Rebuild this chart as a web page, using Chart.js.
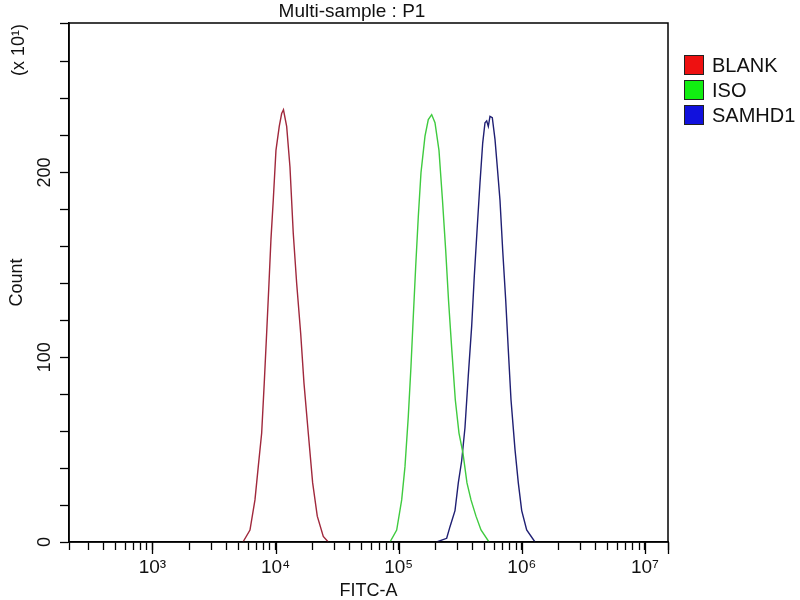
<!DOCTYPE html>
<html lang="en">
<head>
  <meta charset="UTF-8" />
  <title>Multi-sample : P1</title>
  <script src="https://cdn.jsdelivr.net/npm/chart.js"></script>
  <style>
    body {
      margin: 0;
      background: #ffffff;
      font-family: 'Liberation Sans', Arial, sans-serif;
    }

    #wrap {
      position: relative;
      width: 800px;
      height: 600px;
    }

    .legend-item {
      position: absolute;
      left: 684px;
      height: 20px;
      display: flex;
      align-items: center;
      font-size: 20px;
      color: #111;
    }

    .legend-item span.box {
      width: 18px;
      height: 18px;
      border: 1px solid #222;
      margin-right: 8px;
    }
  </style>
</head>
<body>
  <div id="wrap">
    <canvas id="histChart" width="800" height="600"></canvas>
    <div id="legend"></div>
  </div>

  <script>
    // values (FITC-A intensity vs count / 10)
    const seriesNames = ["BLANK", "ISO", "SAMHD1"];

    const blankFitc = [5435, 6197, 6803, 7236, 7713, 8092, 8464, 8840, 9176, 9579, 10074, 10715, 11209,
      11593, 12308, 13092, 13927, 14843, 15995, 17014, 18437, 20012, 21817, 24410, 26800];
    const blankCount = [0, 6.5, 22.8, 40.8, 59, 86, 113, 140, 164, 185, 212, 225, 232,
      234, 225, 203, 167, 140, 113, 86, 59, 32, 14, 3, 0];

    const isoFitc = [85000, 96340, 105780, 112510, 119680, 125860, 131400, 137440, 144290, 151780, 163590,
      173990, 185390, 197200, 212500, 226900, 240900, 253900, 270100, 288300, 308900, 333000, 358700,
      386700, 424600, 466300, 541600];
    const isoCount = [0, 6.5, 22.8, 40.8, 67.9, 95, 122, 149, 176, 200, 219.7,
      228.7, 231.4, 227, 212, 185, 158, 131, 104, 77, 59, 48, 32,
      22.8, 14, 6.5, 0];

    const samhd1Fitc = [203500, 245400, 261100, 286700, 305000, 324900, 345600, 367600, 391800, 411400,
      435100, 457600, 481300, 502500, 518700, 534500, 551700, 576000, 605800, 632400, 665100, 699600,
      740000, 777000, 817200, 880700, 936800, 998200, 1095700, 1280000];
    const samhd1Count = [0, 2, 8.3, 17, 32, 44, 62, 90, 117, 144,
      171, 194.5, 216, 227, 228, 225, 230.5, 229.8, 218, 203, 185, 158,
      131, 104, 77, 50, 32, 17, 6.5, 0];

    const decadeValues = [1e3, 1e4, 1e5, 1e6, 1e7];
    const decadeLabels = ["10³", "10⁴", "10⁵", "10⁶", "10⁷"];
    const countLabels = [0, 100, 200];

    const xMin = 210;
    const xMax = 15400000;

    const lineColors = ["#a0283c", "#3fcb3f", "#1f1f73"];
    const boxColors = ["#ee1111", "#11ee11", "#1111dd"];
    const FONT = "'Liberation Sans', Arial, sans-serif";

    // tick marks at every 1..9 x 10^n inside the axis range, plus the two ends
    function logTicks() {
      const out = [{ value: xMin }];
      for (let e = 2; e <= 7; e++) {
        for (let m = 1; m <= 9; m++) {
          const v = m * Math.pow(10, e);
          if (v > xMin && v < xMax) out.push({ value: v });
        }
      }
      out.push({ value: xMax });
      return out;
    }

    const frameAndText = {
      id: "frameAndText",
      afterDraw(chart) {
        const { ctx, chartArea } = chart;
        const x = chart.scales.x;
        ctx.save();
        ctx.strokeStyle = "#000";
        ctx.lineWidth = 1.5;
        ctx.strokeRect(chartArea.left, chartArea.top, chartArea.right - chartArea.left, chartArea.bottom - chartArea.top);

        // longer ticks at each decade and at the axis end
        ctx.lineWidth = 1.3;
        ctx.beginPath();
        decadeValues.concat([xMax]).forEach(v => {
          const px = Math.round(x.getPixelForValue(v)) + 0.5;
          ctx.moveTo(px, chartArea.bottom);
          ctx.lineTo(px, chartArea.bottom + 12);
        });
        ctx.stroke();

        ctx.fillStyle = "#111";
        ctx.font = "19px " + FONT;
        ctx.textAlign = "center";
        ctx.textBaseline = "alphabetic";
        ctx.fillText("Multi-sample : P1", 352, 17);

        ctx.translate(24, 50);
        ctx.rotate(-Math.PI / 2);
        ctx.font = "18px " + FONT;
        ctx.fillText("(x 10¹)", 0, 0);
        ctx.restore();
      }
    };

    const datasets = [
      [blankFitc, blankCount],
      [isoFitc, isoCount],
      [samhd1Fitc, samhd1Count]
    ].map(([xs, ys], i) => ({
      label: seriesNames[i],
      data: xs.map((v, j) => ({ x: v, y: ys[j] })),
      borderColor: lineColors[i],
      borderWidth: 1.4,
      pointRadius: 0,
      fill: false,
      tension: 0
    }));

    new Chart(document.getElementById("histChart"), {
      type: "line",
      data: { datasets: datasets },
      options: {
        responsive: false,
        animation: false,
        layout: { padding: { top: 23, right: 132, left: 0, bottom: 0 } },
        plugins: {
          legend: { display: false },
          tooltip: { enabled: false }
        },
        scales: {
          x: {
            type: "logarithmic",
            min: xMin,
            max: xMax,
            afterBuildTicks: s => { s.ticks = logTicks(); },
            afterFit: s => { s.height = 58; },
            border: { color: "#000", width: 1.5 },
            grid: {
              drawOnChartArea: false,
              tickLength: 8,
              tickColor: "#000",
              tickWidth: 1.3
            },
            ticks: {
              autoSkip: false,
              maxRotation: 0,
              padding: 6,
              color: "#111",
              font: { family: FONT, size: 19 },
              callback: v => {
                const k = decadeValues.indexOf(v);
                return k >= 0 ? decadeLabels[k] : "";
              }
            },
            title: {
              display: true,
              text: "FITC-A",
              color: "#111",
              font: { family: FONT, size: 18, lineHeight: 1 },
              padding: { top: 0, bottom: 0 }
            }
          },
          y: {
            min: 0,
            max: 281,
            afterFit: s => { s.width = 69; },
            border: { color: "#000", width: 1.5 },
            grid: {
              drawOnChartArea: false,
              tickLength: 9,
              tickColor: "#000",
              tickWidth: 1.3
            },
            ticks: {
              stepSize: 20,
              minRotation: 90,
              maxRotation: 90,
              crossAlign: "center",
              padding: 0,
              color: "#111",
              font: { family: FONT, size: 18 },
              callback: v => (countLabels.includes(v) ? String(v) : "")
            },
            title: {
              display: true,
              text: "Count",
              color: "#111",
              font: { family: FONT, size: 18, lineHeight: 1 },
              padding: { top: 8, bottom: 0 }
            }
          }
        }
      },
      plugins: [frameAndText]
    });

    // legend on the right, outside the plot frame
    const legend = document.getElementById("legend");
    seriesNames.forEach((name, i) => {
      const item = document.createElement("div");
      item.className = "legend-item";
      item.style.top = (55 + i * 25) + "px";
      item.innerHTML = '<span class="box" style="background:' + boxColors[i] + '"></span>' + name;
      legend.appendChild(item);
    });
  </script>
</body>
</html>
